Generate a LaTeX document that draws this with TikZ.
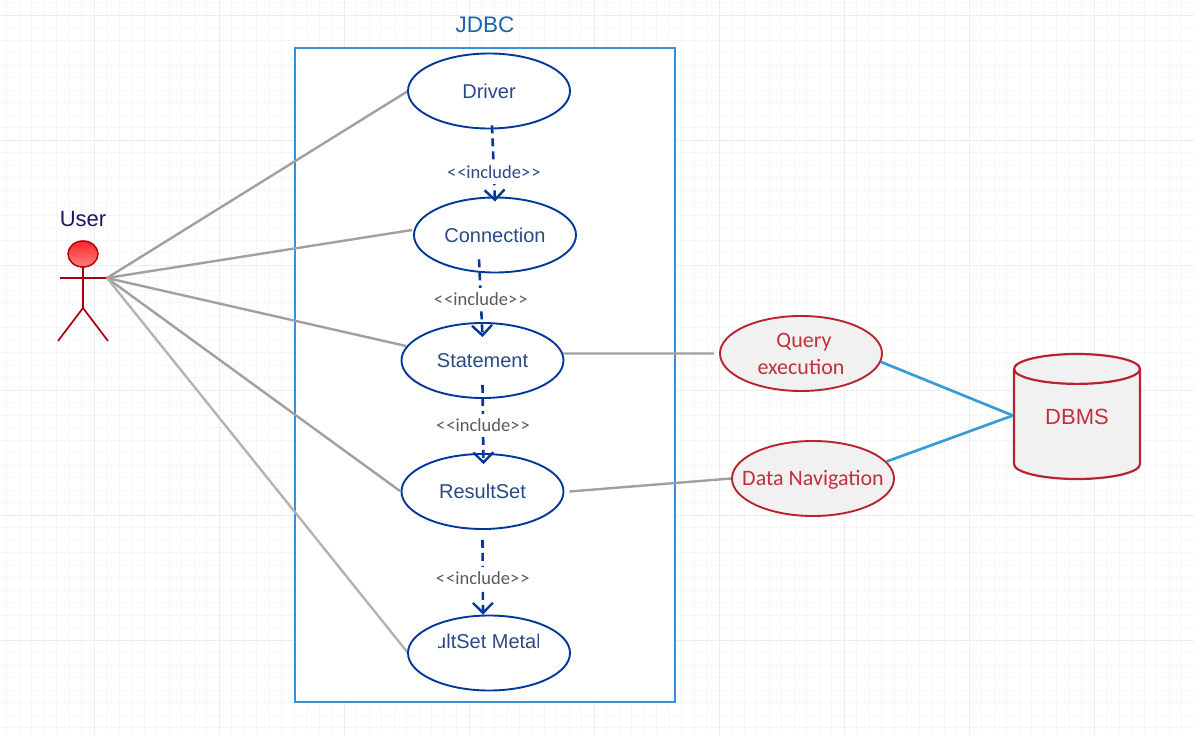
\documentclass[tikz,border=0pt]{standalone}
\usepackage{fontspec}
\setmainfont{Liberation Sans}
\newfontfamily\labelfont{Carlito}
\usetikzlibrary{arrows.meta,positioning,shapes.geometric}
\definecolor{gridminor}{HTML}{F6F6F6}
\definecolor{gridmajor}{HTML}{EDEDED}
\definecolor{boxblue}{HTML}{3A8FD6}
\definecolor{wireblue}{HTML}{3A9BDC}
\definecolor{titleblue}{HTML}{1E64A8}
\definecolor{caseblue}{HTML}{03389A}
\definecolor{casetext}{HTML}{2A4A85}
\definecolor{linkgray}{HTML}{A0A0A0}
\definecolor{dbred}{HTML}{B92330}
\definecolor{dbtext}{HTML}{C2303C}
\definecolor{dbfill}{HTML}{F1F1F1}
\definecolor{actorred}{HTML}{A80010}
\definecolor{usernavy}{HTML}{1F1466}
\newcommand{\incltext}{<\kern1pt<include>\kern1pt>}

\begin{document}
\begin{tikzpicture}[
    x=1pt, y=-1pt,
    usecase/.style={ellipse, draw=caseblue, line width=1.9pt, fill=white, text=casetext, minimum width=162pt, minimum height=75pt, inner sep=0pt, font=\fontsize{20}{24}\selectfont},
    dbcase/.style={usecase, draw=dbred, fill=dbfill, text=dbtext, align=center, font=\labelfont\fontsize{22}{27}\selectfont},
    link/.style={draw=linkgray, line width=2.4pt},
    dblink/.style={draw=wireblue, line width=2.7pt},
    limb/.style={draw=actorred, line width=1.7pt},
    incl/.style={draw=caseblue, line width=2.6pt, dash pattern=on 8pt off 5pt, -{Straight Barb[length=10pt,width=20pt,line width=2.4pt]}},
    incllabel/.style={fill=white, inner xsep=1.5pt, inner ysep=5pt, yshift=-1pt, text=black!65, font=\labelfont\fontsize{18.5}{22}\selectfont}
]
\useasboundingbox (0,0) rectangle (1194,735);

% Background grid
\foreach \gx in {6.8,19.3,...,1194} {\draw[gridminor, line width=0.8pt] (\gx,0) -- (\gx,735);}
\foreach \gy in {2.5,15,...,735} {\draw[gridminor, line width=0.8pt] (0,\gy) -- (1194,\gy);}
\foreach \gx in {94.3,219.3,...,1194} {\draw[gridmajor, line width=0.8pt] (\gx,0) -- (\gx,735);}
\foreach \gy in {15,140,...,735} {\draw[gridmajor, line width=0.8pt] (0,\gy) -- (1194,\gy);}

% System box
\node[draw=boxblue, line width=1.7pt, fill=white, minimum width=380pt, minimum height=654pt, inner sep=0pt] (jdbc) at (485,375) {};
\node[text=titleblue, font=\fontsize{22.5}{26}\selectfont] (jdbctitle) at (485,25) {JDBC};

% Actor
\node[text=usernavy, font=\fontsize{22}{26}\selectfont] (user) at (83,219) {User};
\coordinate (neck) at (83,266);
\coordinate (hip) at (83,308);
\coordinate (handl) at (60,278);
\coordinate (hand) at (107,278);
\coordinate (footl) at (58,341);
\coordinate (footr) at (108,341);
\draw[limb] (neck) -- (hip);
\draw[limb] (handl) -- (hand);
\draw[limb] (footl) -- (hip) -- (footr);
\node[ellipse, draw=actorred!85!red, line width=1.5pt, top color=red!85!white, bottom color=red!50!white, minimum width=30pt, minimum height=26pt, inner sep=0pt] (head) at (83,254) {};

% Links from actor (behind the use cases)
\draw[link] (hand) -- (408,91);
\draw[link] (hand) -- (412,230);
\draw[link] (hand) -- (406,346);
\draw[link] (hand) -- (400,491);
\draw[link, draw=linkgray!80] (hand) -- (408,653);

% Use cases
\node[usecase] (driver) at (489,91) {Driver};
\node[usecase] (conn) at (495,235) {Connection};
\node[usecase] (stmt) at (482.5,360.5) {Statement};
\node[usecase] (rset) at (482.5,491.5) {ResultSet};
\node[usecase] (meta) at (489,653) {};
\begin{scope}
\clip (438,625) rectangle (538,660);
\node[text=casetext, font=\fontsize{20}{24}\selectfont] (metatext) at (488,641) {ultSet Metal};
\end{scope}

% Outer use cases and database
\node[dbcase] (query) at (801,353.5) {\hspace*{6pt}Query\\execution};
\node[dbcase] (nav) at (813,478.5) {\makebox[0pt]{\raisebox{-7pt}[0pt][0pt]{Data Navigation}}};
\node[cylinder, anchor=shape center, shape border rotate=90, shape aspect=0.47, draw=dbred, line width=2.2pt, fill=dbfill, minimum width=126pt, minimum height=125pt, inner sep=0pt, font=\fontsize{22}{26}\selectfont] (dbms) at (1077,416.5) {\phantom{DBMS}};
\node[text=dbtext, font=\fontsize{22}{26}\selectfont] (dbmstext) at (1077,417) {DBMS};

% Links to the right
\draw[link] (stmt.5) -- ([xshift=-5pt]query.west);
\draw[link] ([xshift=5pt]rset.east) -- (nav.west);
\draw[dblink] (query.-6) -- ([yshift=9pt]dbms.west);
\draw[dblink] (nav.13) -- ([yshift=9pt]dbms.west);

% Include arrows
\draw[incl] ([xshift=3pt,yshift=4pt]driver.south) -- ([yshift=-5pt]conn.north) node[pos=0.6, incllabel, text=casetext] (incl1) {\incltext};
\draw[incl] ([xshift=-16pt,yshift=14pt]conn.south) -- ([yshift=-15pt]stmt.north) node[midway, incllabel] (incl2) {\incltext};
\draw[incl] ([yshift=14pt]stmt.south) -- ([xshift=1pt,yshift=-11pt]rset.north) node[midway, incllabel] (incl3) {\incltext};
\draw[incl] ([yshift=-10pt]rset.south) -- ([xshift=-6pt]meta.north) node[midway, incllabel] (incl4) {\incltext};
\end{tikzpicture}
\end{document}
